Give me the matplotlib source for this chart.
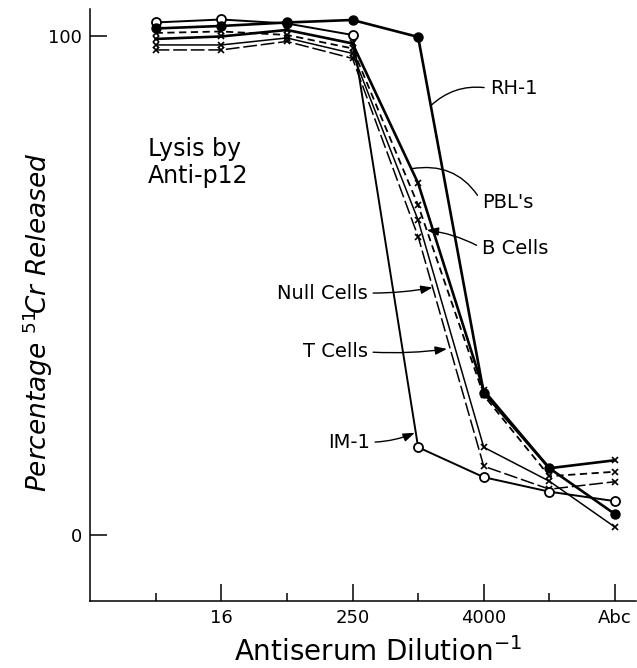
import matplotlib
matplotlib.use("Agg")
import matplotlib.pyplot as plt

# dilution steps: 4, 16, 64, 250, 1000, 4000, 16000, Abc
positions = [1, 2, 3, 4, 5, 6, 7, 8]
tick_pos = [2, 4, 6, 8]
tick_labels = ["16", "250", "4000", "Abc"]

rh1 = [101.5, 102.0, 102.7, 103.2, 99.8, 28.5, 13.4, 4.2]
im1 = [102.7, 103.3, 102.5, 100.2, 17.6, 11.6, 8.7, 6.8]
pbls = [99.4, 99.9, 101.2, 98.5, 70.5, 29.0, 13.4, 15.0]
b_cells = [100.6, 100.9, 100.2, 97.5, 66.1, 28.0, 11.8, 12.7]
null_cells = [98.2, 98.2, 99.6, 96.5, 63.1, 17.6, 10.8, 1.6]
t_cells = [97.2, 97.2, 98.9, 95.5, 59.8, 13.8, 9.2, 10.7]

fig = plt.figure(figsize=(6.37, 6.68), dpi=100)
ax = fig.add_axes([90 / 637, 1 - 601 / 668, 546 / 637, 592 / 668])

k = "black"
ax.plot(positions, t_cells, color=k, lw=1.1, ls=(0, (9, 2.5)), marker="x", ms=5, mew=1.2)
ax.plot(positions, null_cells, color=k, lw=1.1, marker="x", ms=5, mew=1.2)
ax.plot(positions, b_cells, color=k, lw=1.3, ls=(0, (4, 2.5)), marker="x", ms=5, mew=1.2)
ax.plot(positions, pbls, color=k, lw=1.9, marker="x", ms=5, mew=1.2)
ax.plot(positions, im1, color=k, lw=1.4, marker="o", ms=6.5, mfc="white", mec=k, mew=1.3)
ax.plot(positions, rh1, color=k, lw=1.9, marker="o", ms=6.5, mfc=k, mec=k)

ax.set_xlim(0, 8.32)
ax.set_ylim(-13.2, 105.4)
for s in ["top", "right"]:
    ax.spines[s].set_visible(False)
for s in ["left", "bottom"]:
    ax.spines[s].set_linewidth(1.1)

ax.set_yticks([0, 100])
ax.set_yticklabels(["0", "100"])
ax.set_xticks(tick_pos)
ax.set_xticklabels(tick_labels)
ax.set_xticks([1, 3, 5, 7], minor=True)
ax.tick_params(axis="both", which="major", direction="in", length=12, width=1.1,
               labelsize=13, pad=6)
ax.tick_params(axis="x", which="minor", direction="in", length=6, width=1.1)

ax.set_xlabel("Antiserum Dilution$^{-1}$", fontsize=20)
ax.xaxis.set_label_coords(0.527, -0.086)
ax.xaxis.label.set_va("center")
ax.set_ylabel("Percentage $^{51}\\!$Cr Released", fontsize=19, fontstyle="italic")
ax.yaxis.set_label_coords(-0.095, 0.471)
ax.yaxis.label.set_va("center")

ax.text(0.88, 74.6, "Lysis by\nAnti-p12", fontsize=17, ha="left", va="center",
        linespacing=1.15)

line_arrow = dict(arrowstyle="-", color=k, lw=1.0)
head_arrow = dict(arrowstyle="-|>,head_length=0.5,head_width=0.18", color=k, lw=1.0)

ax.annotate("RH-1", xy=(5.19, 86.0), xytext=(6.09, 89.5), fontsize=14, ha="left", va="center",
            arrowprops=dict(line_arrow, relpos=(0, 0.5), shrinkA=2, shrinkB=0,
                            connectionstyle="arc3,rad=0.25"))
ax.annotate("PBL's", xy=(4.90, 73.4), xytext=(5.97, 66.7), fontsize=14, ha="left", va="center",
            arrowprops=dict(line_arrow, relpos=(0, 0.5), shrinkA=2, shrinkB=0,
                            connectionstyle="arc3,rad=0.35"))
ax.annotate("B Cells", xy=(5.13, 61.1), xytext=(5.97, 57.5), fontsize=14, ha="left", va="center",
            arrowprops=dict(head_arrow, relpos=(0, 0.5), shrinkA=2, shrinkB=0,
                            connectionstyle="arc3,rad=0.1"))
ax.annotate("Null Cells", xy=(5.22, 49.6), xytext=(4.23, 48.5), fontsize=14, ha="right", va="center",
            arrowprops=dict(head_arrow, relpos=(1, 0.5), shrinkA=2, shrinkB=0,
                            connectionstyle="arc3,rad=0.05"))
ax.annotate("T Cells", xy=(5.44, 37.3), xytext=(4.23, 36.7), fontsize=14, ha="right", va="center",
            arrowprops=dict(head_arrow, relpos=(1, 0.5), shrinkA=2, shrinkB=0,
                            connectionstyle="arc3,rad=0.05"))
ax.annotate("IM-1", xy=(4.95, 20.5), xytext=(4.26, 18.6), fontsize=14, ha="right", va="center",
            arrowprops=dict(head_arrow, relpos=(1, 0.5), shrinkA=2, shrinkB=0,
                            connectionstyle="arc3,rad=0.1"))

fig.savefig("out.png", dpi=100)
